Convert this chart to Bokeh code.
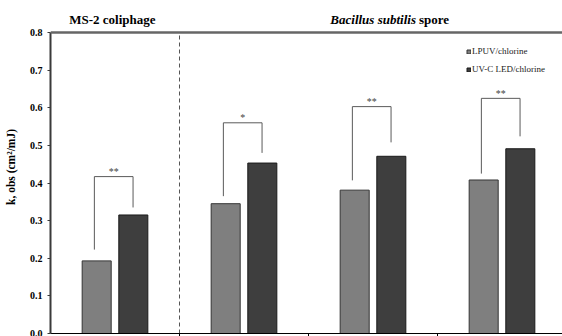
from bokeh.plotting import figure
from bokeh.models import (Range1d, FixedTicker, Span, Legend, LegendItem,
                          ColumnDataSource, NumeralTickFormatter)
from bokeh.core.properties import value
from bokeh.embed import file_html
from bokeh.resources import INLINE

# ---- data ----
groups = ["MS-2 coliphage", "Spore A", "Spore B", "Spore C"]
series = ["LPUV/chlorine", "UV-C LED/chlorine"]
lpuv = [0.193, 0.345, 0.381, 0.408]
uvc = [0.315, 0.453, 0.471, 0.491]
bracket_top = [0.417, 0.560, 0.603, 0.625]
bracket_left_end = [0.223, 0.365, 0.407, 0.425]
bracket_right_end = [0.335, 0.480, 0.508, 0.524]
stars = ["**", "*", "**", "**"]
y_ticks = [0.0, 0.1, 0.2, 0.3, 0.4, 0.5, 0.6, 0.7, 0.8]
ms2_groups = 1
titles = ["MS-2 coliphage", "Bacillus subtilis", "spore"]
y_label = "k, obs (cm\u00b2/mJ)"

SERIF = "Liberation Serif"
CAT_PX = 129          # pixels per group
UNIT_PX = 376.25      # pixels per 1.0 on the y axis
W, H = 562, 336
BL, BT, BR, BB = 50, 0, 0, 3
FRAME_W = W - BL - BR
FRAME_H = H - BT - BB

n = len(groups)
centers = [i + 0.5 for i in range(n)]
off = 0.142
bw = 0.225

y_top = FRAME_H / UNIT_PX   # room above 0.8 for the panel titles
p = figure(width=W, height=H,
           x_range=Range1d(0, FRAME_W / CAT_PX), y_range=Range1d(y_ticks[0], y_top),
           output_backend="svg", toolbar_location=None,
           min_border_left=BL, min_border_right=BR, min_border_top=BT, min_border_bottom=BB)
p.xgrid.visible = False
p.ygrid.visible = False
p.outline_line_color = None
p.background_fill_color = "white"

ya = p.yaxis[0]
ya.ticker = FixedTicker(ticks=y_ticks)
ya.bounds = (y_ticks[0], y_ticks[-1])
ya.formatter = NumeralTickFormatter(format="0.0")
ya.major_label_text_font = SERIF
ya.major_label_text_font_size = "10px"
ya.major_label_text_font_style = "bold"
ya.major_label_text_color = "black"
ya.major_tick_out = 3
ya.major_tick_in = 0
ya.minor_tick_out = 0
ya.minor_tick_in = 0
ya.major_label_standoff = 5
ya.axis_line_width = 2
ya.axis_line_color = "#3a3a3a"
ya.major_tick_line_color = "#3a3a3a"
ya.axis_label = y_label
ya.axis_label_text_font = SERIF
ya.axis_label_text_font_size = "11.5px"
ya.axis_label_text_font_style = "bold"
ya.axis_label_text_color = "black"
ya.axis_label_standoff = 10

xa = p.xaxis[0]
xa.ticker = FixedTicker(ticks=[], minor_ticks=[1, 2, 3])
xa.major_tick_out = 0
xa.major_tick_in = 0
xa.minor_tick_out = 3
xa.minor_tick_in = 0
xa.major_label_standoff = 0
xa.axis_line_color = "black"
xa.minor_tick_line_color = "black"

src = ColumnDataSource(dict(
    xl=[c - off for c in centers], xr=[c + off for c in centers],
    lpuv=lpuv, uvc=uvc))
r1 = p.vbar(x="xl", top="lpuv", width=bw, source=src,
            fill_color="#7f7f7f", line_color="#353535", line_width=1)
r2 = p.vbar(x="xr", top="uvc", width=bw, source=src,
            fill_color="#3e3e3e", line_color="#1a1a1a", line_width=1)

# significance brackets
bl, br = 0.16, 0.14
xs = [[c - bl, c - bl, c + br, c + br] for c in centers]
ys = [[a, t, t, b] for a, t, b in zip(bracket_left_end, bracket_top, bracket_right_end)]
p.multi_line(xs=xs, ys=ys, line_color="#5a5a5a", line_width=1)
p.text(x=[c + (br - bl) / 2 for c in centers],
       y=[t + 5 / UNIT_PX for t in bracket_top], text=stars,
       text_align="center", text_baseline="alphabetic",
       text_font=value(SERIF), text_font_size="10px", text_color="#444444")

# top line and divider
p.add_layout(Span(location=y_ticks[-1], dimension="width", line_color="#666666", line_width=2.5))
p.segment(x0=[ms2_groups], y0=[y_ticks[0]], x1=[ms2_groups], y1=[y_ticks[-1]],
          line_color="#555555", line_width=1, line_dash="4 3")

# legend
leg = Legend(items=[LegendItem(label=series[0], renderers=[r1]),
                    LegendItem(label=series[1], renderers=[r2])],
             location=(416, 259), orientation="vertical",
             glyph_width=5, glyph_height=5, label_standoff=1,
             label_height=10, spacing=8, padding=0, margin=0,
             border_line_color=None, background_fill_alpha=0,
             label_text_font=SERIF, label_text_font_size="9px", label_text_color="#222222")
p.add_layout(leg)

# panel titles (above the 0.8 line)
title_y = y_ticks[-1] + 13 / UNIT_PX
p.text(x=[centers[0] - 0.02], y=[title_y], text=[titles[0]],
       text_align="center", text_baseline="middle",
       text_font=value(SERIF), text_font_size="13px", text_font_style="bold", text_color="black")
join = centers[2] + 0.333
p.text(x=[join], y=[title_y], text=[titles[1]],
       text_align="right", text_baseline="middle",
       text_font=value(SERIF), text_font_size="13px", text_font_style="bold italic",
       text_color="black")
p.text(x=[join], y=[title_y], x_offset=3, text=[titles[2]],
       text_align="left", text_baseline="middle",
       text_font=value(SERIF), text_font_size="13px", text_font_style="bold", text_color="black")

open("out.html", "w").write(file_html(p, INLINE))
